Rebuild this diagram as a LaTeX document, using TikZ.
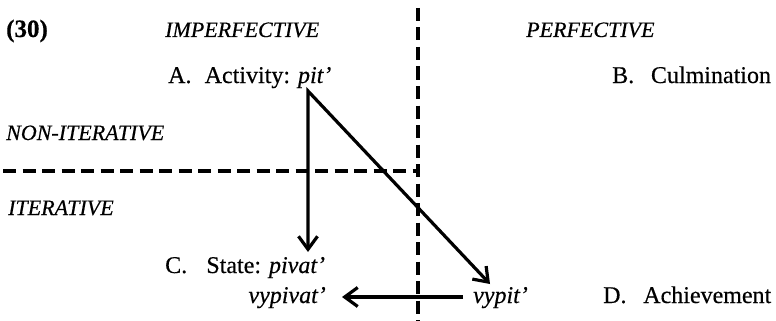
\documentclass[tikz,border=0pt]{standalone}
\usepackage{fontspec}
\setmainfont{Liberation Serif}[FakeBold=0.4]
\usetikzlibrary{arrows.meta}
\begin{document}
\begin{tikzpicture}[x=1pt,y=-1pt,
  lbl/.style={inner sep=0pt, anchor=base west, font=\fontsize{24}{28}\selectfont},
  hdr/.style={lbl, font=\fontsize{22}{26}\selectfont\itshape},
  lblr/.style={lbl, anchor=base east},
  divider/.style={line width=3.2pt, dash pattern=on 13pt off 6.5pt},
  barb/.tip={Straight Barb[length=13pt,width=19pt,line width=3.2pt]},
  arr/.style={line width=3.2pt, -barb},
  arrboth/.style={line width=3.2pt, barb-barb, line join=miter},
]
\useasboundingbox (0,0) rectangle (776,321);
% texts
\node[lbl, font=\fontsize{25}{28}\selectfont\bfseries] (num) at (6,37) {(30)};
\node[hdr] (impf) at (165,37) {IMPERFECTIVE};
\node[hdr] (pf) at (526,37) {PERFECTIVE};
\node[lbl] (A) at (168,83) {A.\hspace{0.55em}Activity: \textit{pit’}};
\node[lbl] (B) at (612,83) {B.\hspace{0.7em}Culmination};
\node[hdr] (noniter) at (6,140) {NON-ITERATIVE};
\node[hdr] (iter) at (8,215) {ITERATIVE};
\node[lbl] (C) at (165,273) {C.\hspace{0.8em}State: \textit{pivat’}};
\node[lblr] (vypivat) at (326,303) {\textit{vypivat’}};
\node[lbl] (vypit) at (473,303) {\textit{vypit’}};
\node[lbl] (D) at (603,303) {D.\hspace{0.7em}Achievement};
% dividers
\coordinate (hl) at (3,171);
\coordinate (hr) at (418,171);
\coordinate (vt) at (418,8);
\coordinate (vb) at (418,321);
\draw[divider] (hl) -- (hr);
\draw[divider] (vt) -- (vb);
% arrows
\coordinate (v) at (308,91);
\coordinate (ctip) at (308,252);
\coordinate (dtip) at (490,284);
\coordinate (hs) at (463,297);
\coordinate (ht) at (342,297);
\draw[arrboth] (ctip) -- (v) -- (dtip);
\draw[arr] (hs) -- (ht);
\end{tikzpicture}
\end{document}
